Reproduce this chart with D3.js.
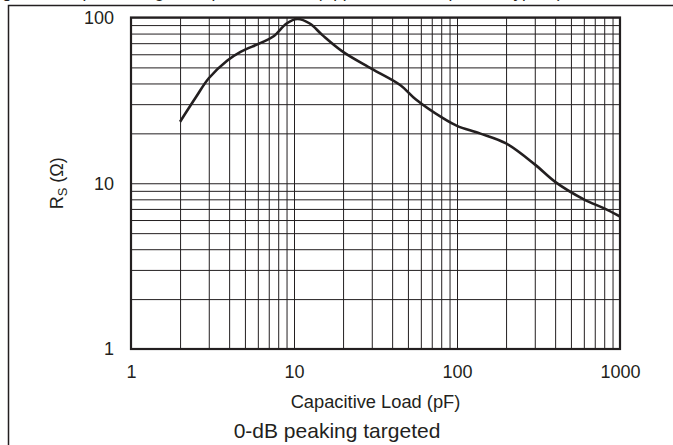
<!DOCTYPE html>
<html>
<head>
<meta charset="utf-8">
<script src="https://cdn.jsdelivr.net/npm/d3@7"></script>
<style>
  html, body { margin: 0; padding: 0; background: #fff; }
  svg { display: block; }
  text { font-family: "Liberation Sans", Arial, sans-serif; fill: #231f20; }
</style>
</head>
<body>
<svg id="chart" width="673" height="445"></svg>
<script>
// ---- data ----
const capacitance = [2, 2.5, 3, 3.9, 4.7, 6.2, 7.5, 9, 10.5, 12.5, 15, 20, 30, 45, 56, 82, 100, 138, 200, 300, 400, 600, 800, 1000];
const rsValues    = [23.5, 33, 43, 55, 62, 70, 77, 92, 98, 92, 78, 62, 49, 39, 32, 24.7, 22.2, 20, 17.4, 13, 10.2, 8, 7.05, 6.3];
const xTickValues = [1, 10, 100, 1000];
const xTickLabels = ["1", "10", "100", "1000"];
const yTickValues = [1, 10, 100];
const yTickLabels = ["1", "10", "100"];
const xTitle = "Capacitive Load (pF)";
const captionText = "0-dB peaking targeted";
const topCaption = "Figure 47. Optimum R";

const svg = d3.select("#chart");
const pLeft = 131, pRight = 620, pTop = 17.5, pBottom = 349;

const x = d3.scaleLog().domain([1, 1000]).range([pLeft, pRight]);
const y = d3.scaleLog().domain([1, 100]).range([pBottom, pTop]);

// outer frame (left + top lines)
svg.append("path")
  .attr("d", d3.line()([[8.5, 445], [8.5, 5.5], [673, 5.5]]))
  .attr("fill", "none").attr("stroke", "#231f20").attr("stroke-width", 1.5);

// cut-off caption at the very top (only descenders visible)
const tc = svg.append("text").attr("x", -12).attr("y", -2.5).attr("font-size", 17);
tc.append("tspan").text(topCaption);
tc.append("tspan").attr("font-size", 12).attr("dy", 3).text("S");
tc.append("tspan").attr("dy", -3).text(" vs Capacitive Load (Approx. Flat Response, Typical)");

// grid (vertical)
const xGrid = svg.append("g").attr("transform", `translate(0,${pBottom})`)
  .call(d3.axisBottom(x).tickValues(x.ticks()).tickSize(-(pBottom - pTop)).tickFormat(""));
xGrid.select(".domain").remove();
xGrid.selectAll("line").attr("stroke", "#231f20").attr("stroke-width", 1);

// grid (horizontal)
const yGrid = svg.append("g").attr("transform", `translate(${pLeft},0)`)
  .call(d3.axisLeft(y).tickValues(y.ticks()).tickSize(-(pRight - pLeft)).tickFormat(""));
yGrid.select(".domain").remove();
yGrid.selectAll("line").attr("stroke", "#231f20").attr("stroke-width", 1);

// curve
svg.append("path")
  .datum(capacitance.map((c, i) => [c, rsValues[i]]))
  .attr("fill", "none")
  .attr("stroke", "#231f20")
  .attr("stroke-width", 2.6)
  .attr("stroke-linejoin", "round")
  .attr("d", d3.line().x(d => x(d[0])).y(d => y(d[1])).curve(d3.curveCatmullRom.alpha(0.5)));

// plot frame
svg.append("rect")
  .attr("x", pLeft).attr("y", pTop)
  .attr("width", pRight - pLeft).attr("height", pBottom - pTop)
  .attr("fill", "none").attr("stroke", "#231f20").attr("stroke-width", 2.2);

// x axis labels
const xAxis = svg.append("g").attr("transform", `translate(0,${pBottom})`)
  .call(d3.axisBottom(x).tickValues(xTickValues).tickSize(0).tickPadding(16)
    .tickFormat((d, i) => xTickLabels[i]));
xAxis.select(".domain").remove();
xAxis.selectAll("text").attr("font-size", 18).attr("font-family", null).attr("fill", "#231f20");

// y axis labels
const yAxis = svg.append("g").attr("transform", `translate(${pLeft},0)`)
  .call(d3.axisLeft(y).tickValues(yTickValues).tickSize(0).tickPadding(17)
    .tickFormat((d, i) => yTickLabels[i]));
yAxis.select(".domain").remove();
yAxis.selectAll("text").attr("font-size", 18).attr("font-family", null).attr("fill", "#231f20");

// x title
svg.append("text")
  .attr("x", (pLeft + pRight) / 2).attr("y", 408)
  .attr("text-anchor", "middle").attr("font-size", 18.3)
  .text(xTitle);

// y title R_S (Ω)
const yt = svg.append("text")
  .attr("transform", `translate(63,${(pTop + pBottom) / 2}) rotate(-90)`)
  .attr("text-anchor", "middle").attr("font-size", 18);
yt.append("tspan").text("R");
yt.append("tspan").attr("font-size", 13).attr("dy", 4).text("S");
yt.append("tspan").attr("dy", -4).text(" (Ω)");

// caption
svg.append("text")
  .attr("x", 337).attr("y", 438)
  .attr("text-anchor", "middle").attr("font-size", 21)
  .text(captionText);
</script>
</body>
</html>
